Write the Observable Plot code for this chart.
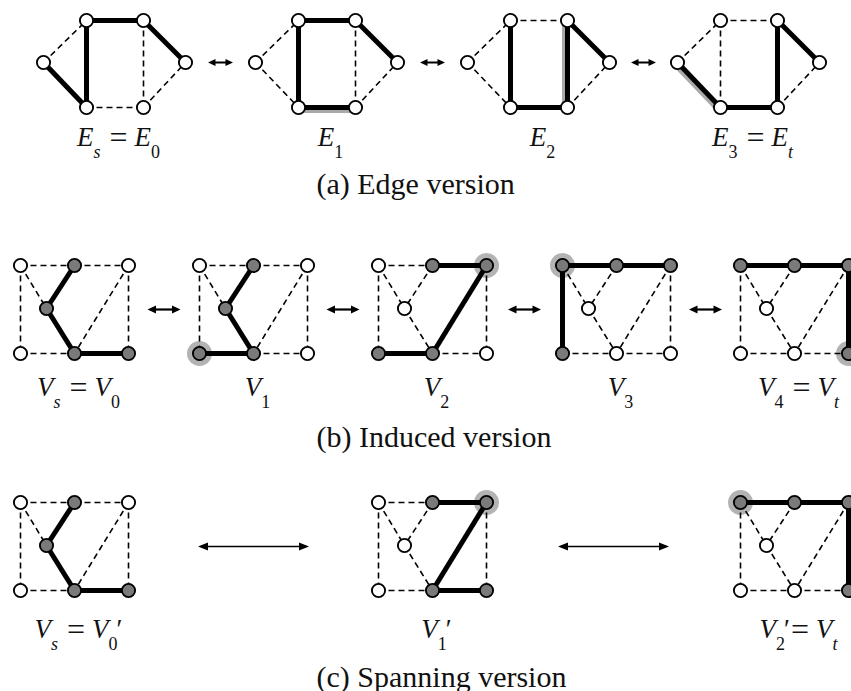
<!DOCTYPE html>
<html><head><meta charset="utf-8">
<script src="https://cdn.jsdelivr.net/npm/d3@7"></script>
<script src="https://cdn.jsdelivr.net/npm/@observablehq/plot@0.6"></script>
<style>html,body{margin:0;padding:0;background:#fff;overflow:hidden}</style>
</head><body><div id="chart"></div>
<script>
// ---------- data ----------
// (a) edge version: graph nodes and edges
const edgeNodeNames = ["L","TL","TR","R","BL","BR"];
const edgeNodeX = [0,43,100,142,43,100];
const edgeNodeY = [42,0,0,42,87,87];
const edgeGraphEdges = [["TL","TR"],["TR","R"],["L","TL"],["L","BL"],["TL","BL"],["TR","BR"],["BL","BR"],["BR","R"]];
const edgeThick = [
  ["TL-TR","TR-R","TL-BL","L-BL"],
  ["TL-TR","TR-R","TL-BL","BL-BR"],
  ["TL-BL","BL-BR","TR-BR","TR-R"],
  ["L-BL","BL-BR","TR-BR","TR-R"]
];
const edgeChanged = [null,"BL-BR","TR-BR","L-BL"];
const edgeLabels = [
  [["E","i"],["s","si"],["=","eq"],["E","i"],["0","s"]],
  [["E","i"],["1","s"]],
  [["E","i"],["2","s"]],
  [["E","i"],["3","s"],["=","eq"],["E","i"],["t","si"]]
];

// (b),(c) vertex versions: graph nodes and edges
const vNodeNames = ["TL","TM","TR","M","BL","BM","BR"];
const vNodeX = [0,54,108,26,0,54,108];
const vNodeY = [0,0,0,43,88,88,88];
const vGraphEdges = [["TL","TM"],["TM","TR"],["TL","BL"],["TR","BR"],["BL","BM"],["BM","BR"],["TL","M"],["TM","M"],["M","BM"],["TR","BM"]];

const inducedSelected = [
  ["TM","M","BM","BR"],
  ["TM","M","BM","BL"],
  ["TM","TR","BM","BL"],
  ["TL","TM","TR","BL"],
  ["TL","TM","TR","BR"]
];
const inducedThick = [
  ["TM-M","M-BM","BM-BR"],
  ["TM-M","M-BM","BL-BM"],
  ["TM-TR","TR-BM","BL-BM"],
  ["TL-TM","TM-TR","TL-BL"],
  ["TL-TM","TM-TR","TR-BR"]
];
const inducedHalo = [null,"BL","TR","TL","BR"];
const inducedLabels = [
  [["V","i"],["s","si"],["=","eq"],["V","i"],["0","s"]],
  [["V","i"],["1","s"]],
  [["V","i"],["2","s"]],
  [["V","i"],["3","s"]],
  [["V","i"],["4","s"],["=","eq"],["V","i"],["t","si"]]
];

const spanningSelected = [
  ["TM","M","BM","BR"],
  ["TM","TR","BM","BR"],
  ["TL","TM","TR","BR"]
];
const spanningThick = [
  ["TM-M","M-BM","BM-BR"],
  ["TM-TR","TR-BM","BM-BR"],
  ["TL-TM","TM-TR","TR-BR"]
];
const spanningHalo = [null,"TR","TL"];
const spanningLabels = [
  [["V","i"],["s","si"],["=","eq"],["V","i"],["0","s"],["\u2032","p"]],
  [["V","i"],["1","s"],["\u2032","p"]],
  [["V","i"],["2","s"],["\u2032","p"],["=","eqn"],["V","i"],["t","si"]]
];

const captions = ["(a) Edge version","(b) Induced version","(c) Spanning version"];

// ---------- layout / style ----------
const W = 851, H = 691;
const FONT = "Liberation Serif";
const NODE_GRAY = "#7a7a7a", HALO = "#b3b3b3", HILITE = "#a9a9a9";
const hiliteOffset = {"BL-BR":[0,2.5],"TR-BR":[-2.5,0],"L-BL":[-2,2]};

const rows = [
  {names: edgeNodeNames, nx: edgeNodeX, ny: edgeNodeY, edges: edgeGraphEdges,
   px: [43,255,467,677], top: 20, width: 142, thick: edgeThick, selected: null, halo: null,
   changed: edgeChanged, labels: edgeLabels, labelY: 145, captionY: 193,
   arrowLen: 25, head: 7.5, headR: 3.6, shaftW: 2},
  {names: vNodeNames, nx: vNodeX, ny: vNodeY, edges: vGraphEdges,
   px: [20,199,378,562,740], top: 265, width: 108, thick: inducedThick, selected: inducedSelected, halo: inducedHalo,
   changed: null, labels: inducedLabels, labelY: 395, captionY: 446,
   arrowLen: 33, head: 8.5, headR: 4, shaftW: 2.2},
  {names: vNodeNames, nx: vNodeX, ny: vNodeY, edges: vGraphEdges,
   px: [20,378,740], top: 502, width: 108, thick: spanningThick, selected: spanningSelected, halo: spanningHalo,
   changed: null, labels: spanningLabels, labelY: 637, captionY: 686,
   arrowLen: 111, head: 10, headR: 4, shaftW: 1.5}
];

const STY = {
  i:   {fontSize: 27, fontStyle: "italic", dy: 0},
  si:  {fontSize: 18, fontStyle: "italic", dy: 12},
  s:   {fontSize: 18, fontStyle: "normal", dy: 12},
  eq:  {fontSize: 32, fontStyle: "normal", dy: 2, padL: 9, padR: 7},
  eqn: {fontSize: 32, fontStyle: "normal", dy: 2, padL: 1, padR: 7},
  p:   {fontSize: 27, fontStyle: "normal", dy: 0, dx: -1}
};

const ctx = document.createElement("canvas").getContext("2d");
function measure(t, st) {
  ctx.font = `${st.fontStyle} ${st.fontSize}px "${FONT}"`;
  return ctx.measureText(t).width;
}
function layoutLabel(pieces, cx, baseY) {
  let x = 0, lastSubEnd = 0; const out = [];
  for (const [t, k] of pieces) {
    const st = STY[k];
    if (k === "p") {
      const px = lastSubEnd + st.dx;
      out.push({t, k, x: px});
      x = Math.max(x, px + measure(t, st));
      continue;
    }
    x += st.padL || 0;
    out.push({t, k, x});
    x += measure(t, st);
    if (k === "s" || k === "si") lastSubEnd = x;
    x += st.padR || 0;
  }
  const off = cx - x / 2;
  return out.map(d => ({...d, x: d.x + off, y: baseY + STY[d.k].dy}));
}

// ---------- build mark data ----------
const segs = [], nodes = [], halos = [], hilites = [], texts = [], shafts = [], headsR = [], headsL = [], caps = [];
rows.forEach((row, ri) => {
  const idx = Object.fromEntries(row.names.map((n, i) => [n, i]));
  const pos = (p, n) => [row.px[p] + row.nx[idx[n]], row.top + row.ny[idx[n]]];
  row.px.forEach((_, p) => {
    for (const [a, b] of row.edges) {
      const key = `${a}-${b}`;
      const [x1, y1] = pos(p, a), [x2, y2] = pos(p, b);
      const thick = row.thick[p].includes(key);
      segs.push({x1, y1, x2, y2, thick});
      if (row.changed && row.changed[p] === key) hilites.push({x1, y1, x2, y2, key});
    }
    for (const n of row.names) {
      const [x, y] = pos(p, n);
      nodes.push({x, y, sel: row.selected ? row.selected[p].includes(n) : false});
      if (row.halo && row.halo[p] === n) halos.push({x, y});
    }
    const cx = row.px[p] + row.width / 2 + 4;
    texts.push(...layoutLabel(row.labels[p], cx, row.labelY));
    if (p < row.px.length - 1) {
      const y = row.top + (ri === 0 ? 42 : 44);
      const mid = (row.px[p] + row.width + row.px[p + 1]) / 2;
      const x1 = mid - row.arrowLen / 2, x2 = mid + row.arrowLen / 2;
      shafts.push({x1: x1 + 3, x2: x2 - 3, y, w: row.shaftW});
      headsR.push({x: x2 - row.head, y, len: row.head, r: row.headR});
      headsL.push({x: x1 + row.head, y, len: row.head, r: row.headR});
    }
  });
  caps.push({t: captions[ri], x: 316, y: row.captionY});
});

// ---------- marks ----------
const marks = [
  Plot.dot(halos, {x: "x", y: "y", r: 12.5, fill: HALO, stroke: "none"}),
  Plot.link(segs.filter(d => !d.thick), {x1: "x1", y1: "y1", x2: "x2", y2: "y2", stroke: "black", strokeWidth: 1.6, strokeDasharray: "6,4"}),
  ...hilites.map(h => Plot.link([h], {x1: "x1", y1: "y1", x2: "x2", y2: "y2", stroke: HILITE, strokeWidth: 6, dx: hiliteOffset[h.key][0], dy: hiliteOffset[h.key][1]})),
  Plot.link(segs.filter(d => d.thick), {x1: "x1", y1: "y1", x2: "x2", y2: "y2", stroke: "black", strokeWidth: 5}),
  Plot.dot(nodes.filter(d => !d.sel), {x: "x", y: "y", r: 6.6, fill: "white", stroke: "black", strokeWidth: 1.9}),
  Plot.dot(nodes.filter(d => d.sel), {x: "x", y: "y", r: 6.6, fill: NODE_GRAY, stroke: "black", strokeWidth: 1.9}),
  ...[2.2, 2, 1.5].map(w => Plot.link(shafts.filter(d => d.w === w), {x1: "x1", y1: "y", x2: "x2", y2: "y", stroke: "black", strokeWidth: w})),
  ...rows.map(row => Plot.vector(headsR.filter(d => d.len === row.head && d.r === row.headR), {x: "x", y: "y", length: row.head, r: row.headR, rotate: 90, shape: "spike", anchor: "start", fill: "black", stroke: "none"})),
  ...rows.map(row => Plot.vector(headsL.filter(d => d.len === row.head && d.r === row.headR), {x: "x", y: "y", length: row.head, r: row.headR, rotate: -90, shape: "spike", anchor: "start", fill: "black", stroke: "none"})),
  ...Object.entries(STY).map(([k, st]) => Plot.text(texts.filter(d => d.k === k), {x: "x", y: "y", text: "t", fontSize: st.fontSize, fontStyle: st.fontStyle, fontFamily: FONT, textAnchor: "start", lineAnchor: "bottom", fill: "#111"})),
  Plot.text(caps, {x: "x", y: "y", text: "t", fontSize: 30, fontFamily: FONT, textAnchor: "start", lineAnchor: "bottom", fill: "#111"})
];

const svg = Plot.plot({
  width: W, height: H, margin: 0,
  x: {domain: [0, W], range: [0, W], axis: null},
  y: {domain: [0, H], range: [0, H], axis: null},
  style: {background: "white", fontFamily: FONT},
  marks
});
document.getElementById("chart").appendChild(svg);
</script>
</body></html>
